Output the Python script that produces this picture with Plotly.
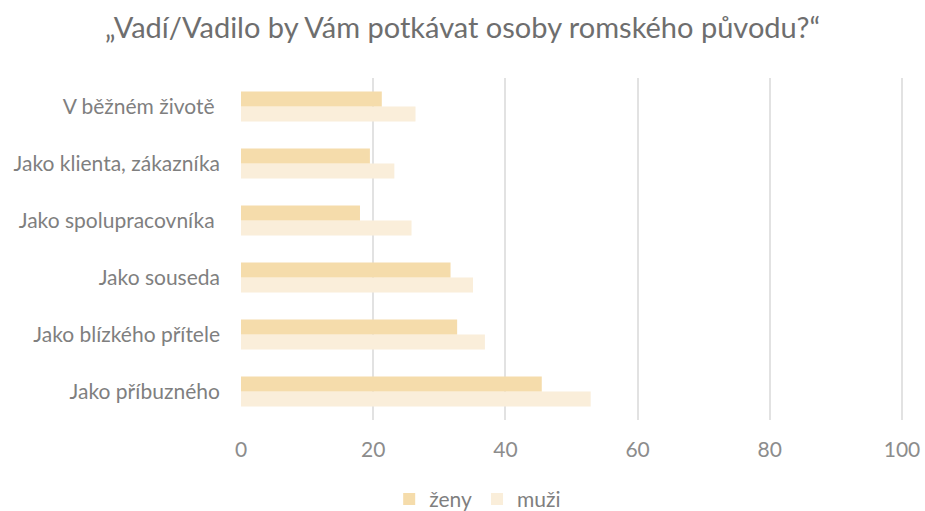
import plotly.graph_objects as go

categories = ["Jako příbuzného", "Jako blízkého přítele", "Jako souseda",
              "Jako spolupracovníka\u00a0", "Jako klienta, zákazníka", "V běžném životě\u00a0"]
zeny = [45.5, 32.7, 31.7, 18.0, 19.5, 21.3]
muzi = [52.9, 36.9, 35.1, 25.8, 23.2, 26.4]
x_ticks = [0, 20, 40, 60, 80, 100]

gray = "#7f7f7f"
font_family = "Lato, 'Open Sans', sans-serif"

fig = go.Figure()
fig.add_trace(go.Bar(y=categories, x=muzi, orientation="h", name="muži",
                     marker=dict(color="#FAEEDA", line=dict(width=0)), legendrank=2))
fig.add_trace(go.Bar(y=categories, x=zeny, orientation="h", name="ženy",
                     marker=dict(color="#F5DCAB", line=dict(width=0)), legendrank=1))

fig.update_layout(
    width=925, height=511,
    paper_bgcolor="white", plot_bgcolor="white",
    margin=dict(l=241, r=21, t=78, b=91, autoexpand=False),
    barmode="group", bargap=0.47, bargroupgap=0,
    font=dict(family=font_family, color=gray, size=21),
    title=dict(text="„Vadí/Vadilo by Vám potkávat osoby romského původu?“",
               x=0.5, xanchor="center", y=0.945, yanchor="middle",
               font=dict(size=29, color="#6e6e6e", family=font_family)),
    xaxis=dict(range=[0, 100.3], tickvals=x_ticks, showgrid=True, automargin=False,
               gridcolor="#e2e2e2", gridwidth=2, zeroline=False, ticklabeloverflow="allow",
               ticklabelstandoff=15,
               showline=False, ticks="", tickfont=dict(size=21, color="#8c8c8c")),
    yaxis=dict(showgrid=False, zeroline=False, showline=False, ticks="", automargin=False,
               ticklabelstandoff=20, tickfont=dict(size=21, color="#7f7f7f")),
    legend=dict(orientation="h", x=0.357, xanchor="center", y=-0.172, yanchor="top",
                font=dict(size=21, color="#7f7f7f"), itemwidth=30),
    showlegend=True,
)

fig.write_html("out.html", config={"displayModeBar": False},
               post_script="document.body.style.margin='0';document.body.style.padding='0';")
